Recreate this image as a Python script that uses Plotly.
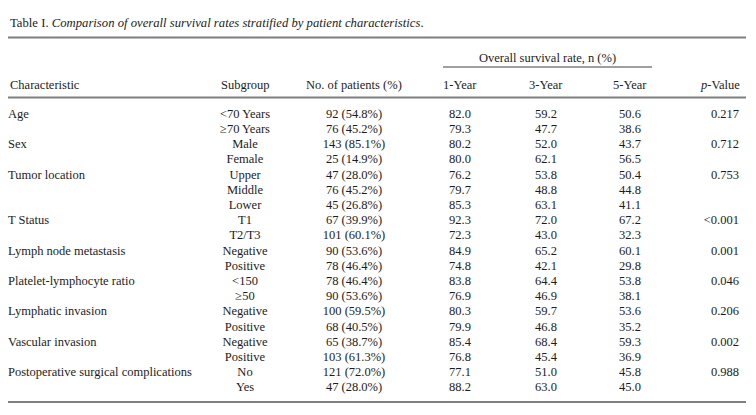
import plotly.graph_objects as go

# ---------------- data ----------------
characteristics = ["Age", "Sex", "Tumor location", "T Status", "Lymph node metastasis",
                   "Platelet-lymphocyte ratio", "Lymphatic invasion", "Vascular invasion",
                   "Postoperative surgical complications"]
group_sizes = [2, 2, 3, 2, 2, 2, 2, 2, 2]
subgroups = ["<70 Years", "≥70 Years", "Male", "Female", "Upper", "Middle", "Lower", "T1", "T2/T3",
             "Negative", "Positive", "<150", "≥50", "Negative", "Positive", "Negative", "Positive",
             "No", "Yes"]
n_patients = [92, 76, 143, 25, 47, 76, 45, 67, 101, 90, 78, 78, 90, 100, 68, 65, 103, 121, 47]
pct_patients = [54.8, 45.2, 85.1, 14.9, 28.0, 45.2, 26.8, 39.9, 60.1, 53.6, 46.4, 46.4, 53.6,
                59.5, 40.5, 38.7, 61.3, 72.0, 28.0]
os_1yr = [82.0, 79.3, 80.2, 80.0, 76.2, 79.7, 85.3, 92.3, 72.3, 84.9, 74.8, 83.8, 76.9, 80.3,
          79.9, 85.4, 76.8, 77.1, 88.2]
os_3yr = [59.2, 47.7, 52.0, 62.1, 53.8, 48.8, 63.1, 72.0, 43.0, 65.2, 42.1, 64.4, 46.9, 59.7,
          46.8, 68.4, 45.4, 51.0, 63.0]
os_5yr = [50.6, 38.6, 43.7, 56.5, 50.4, 44.8, 41.1, 67.2, 32.3, 60.1, 29.8, 53.8, 38.1, 53.6,
          35.2, 59.3, 36.9, 45.8, 45.0]
p_values = ["0.217", "0.712", "0.753", "<0.001", "0.001", "0.046", "0.206", "0.002", "0.988"]
headers = ["Characteristic", "Subgroup", "No. of patients (%)", "1-Year", "3-Year", "5-Year",
           "<i>p</i>-Value"]
span_header = "Overall survival rate, n (%)"
title = "Table I. <i>Comparison of overall survival rates stratified by patient characteristics</i>."

# ---------------- layout constants ----------------
W, H = 756, 415
ROW0, ROWH = 114.6, 15.2         # pixel position of first body row, row pitch
FONT = "Liberation Serif"
FS = 12.5
TXT = "#1c1c1c"
LINE = "#7f7f7f"


def py(p):
    """pixel row -> row units used on the y axis"""
    return (p - ROW0) / ROWH


# build table columns
char_col, p_col = [], []
for name, size, pv in zip(characteristics, group_sizes, p_values):
    char_col += [name] + [""] * (size - 1)
    p_col += [pv] + [""] * (size - 1)
npat_col = [f"{n} ({p:.1f}%)" for n, p in zip(n_patients, pct_patients)]
rows = list(range(len(subgroups)))

col_x = {"char": 8, "sub": 245, "npat": 354, "y1": 460, "y3": 546, "y5": 630, "p": 739}

fig = go.Figure()


def add_col(x, texts, pos):
    fig.add_trace(go.Scatter(
        x=[x] * len(texts), y=rows, mode="text", text=texts, textposition=pos,
        textfont=dict(family=FONT, size=FS, color=TXT),
        hoverinfo="skip", showlegend=False, cliponaxis=False))


add_col(col_x["char"], char_col, "middle right")
add_col(col_x["sub"], subgroups, "middle center")
add_col(col_x["npat"], npat_col, "middle center")
add_col(col_x["y1"], [f"{v:.1f}" for v in os_1yr], "middle center")
add_col(col_x["y3"], [f"{v:.1f}" for v in os_3yr], "middle center")
add_col(col_x["y5"], [f"{v:.1f}" for v in os_5yr], "middle center")
add_col(col_x["p"], p_col, "middle left")

annots = []
# title
annots.append(dict(x=8, y=py(22.5), text=title, xanchor="left", yanchor="middle", showarrow=False,
                   font=dict(family=FONT, size=12.7, color=TXT)))
# spanning header
annots.append(dict(x=547, y=py(58), text=span_header, xanchor="center", yanchor="middle",
                   showarrow=False, font=dict(family=FONT, size=FS, color=TXT)))
hdr_pos = [("char", "left"), ("sub", "center"), ("npat", "center"), ("y1", "center"),
           ("y3", "center"), ("y5", "center"), ("p", "right")]
for h, (k, anc) in zip(headers, hdr_pos):
    annots.append(dict(x=col_x[k] + (3 if k == "p" else 0), y=py(84.5), text=h, xanchor=anc,
                       yanchor="middle", showarrow=False,
                       font=dict(family=FONT, size=FS, color=TXT)))

shapes = [
    dict(type="line", x0=8, x1=746, y0=py(37.5), y1=py(37.5), line=dict(color=LINE, width=2)),
    dict(type="line", x0=443, x1=652, y0=py(67), y1=py(67), line=dict(color=LINE, width=1.5)),
    dict(type="line", x0=8, x1=746, y0=py(97.5), y1=py(97.5), line=dict(color=LINE, width=2)),
    dict(type="line", x0=8, x1=746, y0=py(402), y1=py(402), line=dict(color=LINE, width=2)),
]
for s in shapes:
    s.update(xref="x", yref="y")

fig.update_layout(
    width=W, height=H, margin=dict(l=0, r=0, t=0, b=0),
    paper_bgcolor="white", plot_bgcolor="white",
    xaxis=dict(range=[0, W], visible=False, fixedrange=True),
    yaxis=dict(range=[py(H), py(0)], visible=False, fixedrange=True),
    annotations=annots, shapes=shapes,
)

fig.write_html("out.html", config={"displayModeBar": False},
               post_script="document.body.style.margin='0';document.body.style.overflow='hidden';")
